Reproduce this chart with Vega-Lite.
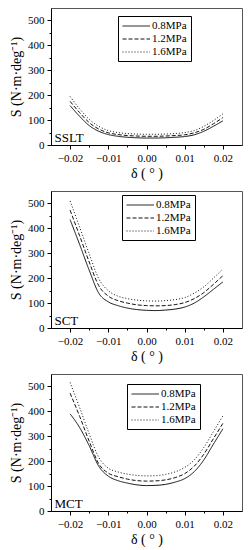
{
  "$schema": "https://vega.github.io/schema/vega-lite/v6.json",
  "padding": {"left": 9, "top": 7, "right": 9, "bottom": 2},
  "bounds": "flush",
  "spacing": 46,
  "background": "white",
  "config": {
    "view": {"stroke": "#555", "strokeWidth": 1},
    "font": "Liberation Serif",
    "axis": {
      "domainColor": "#000", "tickColor": "#000", "grid": false,
      "labelFont": "Liberation Serif", "labelFontSize": 11, "labelColor": "#000",
      "titleFont": "Liberation Serif", "titleFontSize": 14, "titleFontWeight": "normal", "titleColor": "#000",
      "labelOverlap": false, "labelFlush": false, "tickSize": 4, "labelPadding": 3
    },
    "legend": {
      "orient": "none", "title": null, "strokeColor": "#000", "fillColor": "white",
      "padding": 4, "rowPadding": 2, "labelFont": "Liberation Serif", "labelFontSize": 11, "labelColor": "#000",
      "symbolType": "M-1,0H4", "symbolSize": 121, "symbolStrokeWidth": 1, "symbolStrokeColor": "#111",
      "symbolFillColor": "transparent", "labelOffset": 18
    }
  },
  "datasets": {
    "curves": [
      {"panel":"SSLT","p":"0.8MPa","delta":-0.02,"S":158},{"panel":"SSLT","p":"0.8MPa","delta":-0.0175,"S":115},{"panel":"SSLT","p":"0.8MPa","delta":-0.015,"S":78},{"panel":"SSLT","p":"0.8MPa","delta":-0.0125,"S":55},{"panel":"SSLT","p":"0.8MPa","delta":-0.01,"S":42},{"panel":"SSLT","p":"0.8MPa","delta":-0.0075,"S":35},{"panel":"SSLT","p":"0.8MPa","delta":-0.005,"S":31},{"panel":"SSLT","p":"0.8MPa","delta":-0.0025,"S":29},{"panel":"SSLT","p":"0.8MPa","delta":0,"S":28},{"panel":"SSLT","p":"0.8MPa","delta":0.0025,"S":28},{"panel":"SSLT","p":"0.8MPa","delta":0.005,"S":29},{"panel":"SSLT","p":"0.8MPa","delta":0.0075,"S":31},{"panel":"SSLT","p":"0.8MPa","delta":0.01,"S":34},{"panel":"SSLT","p":"0.8MPa","delta":0.0125,"S":41},{"panel":"SSLT","p":"0.8MPa","delta":0.015,"S":55},{"panel":"SSLT","p":"0.8MPa","delta":0.0175,"S":75},{"panel":"SSLT","p":"0.8MPa","delta":0.02,"S":97},
      {"panel":"SSLT","p":"1.2MPa","delta":-0.02,"S":175},{"panel":"SSLT","p":"1.2MPa","delta":-0.0175,"S":130},{"panel":"SSLT","p":"1.2MPa","delta":-0.015,"S":90},{"panel":"SSLT","p":"1.2MPa","delta":-0.0125,"S":64},{"panel":"SSLT","p":"1.2MPa","delta":-0.01,"S":49},{"panel":"SSLT","p":"1.2MPa","delta":-0.0075,"S":42},{"panel":"SSLT","p":"1.2MPa","delta":-0.005,"S":38},{"panel":"SSLT","p":"1.2MPa","delta":-0.0025,"S":36},{"panel":"SSLT","p":"1.2MPa","delta":0,"S":35},{"panel":"SSLT","p":"1.2MPa","delta":0.0025,"S":35},{"panel":"SSLT","p":"1.2MPa","delta":0.005,"S":36},{"panel":"SSLT","p":"1.2MPa","delta":0.0075,"S":38},{"panel":"SSLT","p":"1.2MPa","delta":0.01,"S":41},{"panel":"SSLT","p":"1.2MPa","delta":0.0125,"S":49},{"panel":"SSLT","p":"1.2MPa","delta":0.015,"S":63},{"panel":"SSLT","p":"1.2MPa","delta":0.0175,"S":85},{"panel":"SSLT","p":"1.2MPa","delta":0.02,"S":110},
      {"panel":"SSLT","p":"1.6MPa","delta":-0.02,"S":195},{"panel":"SSLT","p":"1.6MPa","delta":-0.0175,"S":145},{"panel":"SSLT","p":"1.6MPa","delta":-0.015,"S":103},{"panel":"SSLT","p":"1.6MPa","delta":-0.0125,"S":75},{"panel":"SSLT","p":"1.6MPa","delta":-0.01,"S":58},{"panel":"SSLT","p":"1.6MPa","delta":-0.0075,"S":50},{"panel":"SSLT","p":"1.6MPa","delta":-0.005,"S":46},{"panel":"SSLT","p":"1.6MPa","delta":-0.0025,"S":44},{"panel":"SSLT","p":"1.6MPa","delta":0,"S":43},{"panel":"SSLT","p":"1.6MPa","delta":0.0025,"S":43},{"panel":"SSLT","p":"1.6MPa","delta":0.005,"S":44},{"panel":"SSLT","p":"1.6MPa","delta":0.0075,"S":46},{"panel":"SSLT","p":"1.6MPa","delta":0.01,"S":50},{"panel":"SSLT","p":"1.6MPa","delta":0.0125,"S":58},{"panel":"SSLT","p":"1.6MPa","delta":0.015,"S":75},{"panel":"SSLT","p":"1.6MPa","delta":0.0175,"S":98},{"panel":"SSLT","p":"1.6MPa","delta":0.02,"S":125},
      {"panel":"SCT","p":"0.8MPa","delta":-0.02,"S":435},{"panel":"SCT","p":"0.8MPa","delta":-0.0175,"S":335},{"panel":"SCT","p":"0.8MPa","delta":-0.015,"S":232},{"panel":"SCT","p":"0.8MPa","delta":-0.0125,"S":140},{"panel":"SCT","p":"0.8MPa","delta":-0.01,"S":105},{"panel":"SCT","p":"0.8MPa","delta":-0.0075,"S":90},{"panel":"SCT","p":"0.8MPa","delta":-0.005,"S":80},{"panel":"SCT","p":"0.8MPa","delta":-0.0025,"S":74},{"panel":"SCT","p":"0.8MPa","delta":0,"S":71},{"panel":"SCT","p":"0.8MPa","delta":0.0025,"S":70},{"panel":"SCT","p":"0.8MPa","delta":0.005,"S":72},{"panel":"SCT","p":"0.8MPa","delta":0.0075,"S":76},{"panel":"SCT","p":"0.8MPa","delta":0.01,"S":84},{"panel":"SCT","p":"0.8MPa","delta":0.0125,"S":100},{"panel":"SCT","p":"0.8MPa","delta":0.015,"S":125},{"panel":"SCT","p":"0.8MPa","delta":0.0175,"S":155},{"panel":"SCT","p":"0.8MPa","delta":0.02,"S":185},
      {"panel":"SCT","p":"1.2MPa","delta":-0.02,"S":473},{"panel":"SCT","p":"1.2MPa","delta":-0.0175,"S":370},{"panel":"SCT","p":"1.2MPa","delta":-0.015,"S":265},{"panel":"SCT","p":"1.2MPa","delta":-0.0125,"S":170},{"panel":"SCT","p":"1.2MPa","delta":-0.01,"S":128},{"panel":"SCT","p":"1.2MPa","delta":-0.0075,"S":110},{"panel":"SCT","p":"1.2MPa","delta":-0.005,"S":100},{"panel":"SCT","p":"1.2MPa","delta":-0.0025,"S":93},{"panel":"SCT","p":"1.2MPa","delta":0,"S":90},{"panel":"SCT","p":"1.2MPa","delta":0.0025,"S":89},{"panel":"SCT","p":"1.2MPa","delta":0.005,"S":90},{"panel":"SCT","p":"1.2MPa","delta":0.0075,"S":94},{"panel":"SCT","p":"1.2MPa","delta":0.01,"S":102},{"panel":"SCT","p":"1.2MPa","delta":0.0125,"S":118},{"panel":"SCT","p":"1.2MPa","delta":0.015,"S":142},{"panel":"SCT","p":"1.2MPa","delta":0.0175,"S":175},{"panel":"SCT","p":"1.2MPa","delta":0.02,"S":210},
      {"panel":"SCT","p":"1.6MPa","delta":-0.02,"S":510},{"panel":"SCT","p":"1.6MPa","delta":-0.0175,"S":405},{"panel":"SCT","p":"1.6MPa","delta":-0.015,"S":298},{"panel":"SCT","p":"1.6MPa","delta":-0.0125,"S":198},{"panel":"SCT","p":"1.6MPa","delta":-0.01,"S":150},{"panel":"SCT","p":"1.6MPa","delta":-0.0075,"S":128},{"panel":"SCT","p":"1.6MPa","delta":-0.005,"S":118},{"panel":"SCT","p":"1.6MPa","delta":-0.0025,"S":112},{"panel":"SCT","p":"1.6MPa","delta":0,"S":109},{"panel":"SCT","p":"1.6MPa","delta":0.0025,"S":108},{"panel":"SCT","p":"1.6MPa","delta":0.005,"S":110},{"panel":"SCT","p":"1.6MPa","delta":0.0075,"S":114},{"panel":"SCT","p":"1.6MPa","delta":0.01,"S":122},{"panel":"SCT","p":"1.6MPa","delta":0.0125,"S":140},{"panel":"SCT","p":"1.6MPa","delta":0.015,"S":165},{"panel":"SCT","p":"1.6MPa","delta":0.0175,"S":200},{"panel":"SCT","p":"1.6MPa","delta":0.02,"S":237},
      {"panel":"MCT","p":"0.8MPa","delta":-0.02,"S":390},{"panel":"MCT","p":"0.8MPa","delta":-0.0175,"S":335},{"panel":"MCT","p":"0.8MPa","delta":-0.015,"S":262},{"panel":"MCT","p":"0.8MPa","delta":-0.0125,"S":180},{"panel":"MCT","p":"0.8MPa","delta":-0.01,"S":140},{"panel":"MCT","p":"0.8MPa","delta":-0.0075,"S":122},{"panel":"MCT","p":"0.8MPa","delta":-0.005,"S":112},{"panel":"MCT","p":"0.8MPa","delta":-0.0025,"S":105},{"panel":"MCT","p":"0.8MPa","delta":0,"S":102},{"panel":"MCT","p":"0.8MPa","delta":0.0025,"S":103},{"panel":"MCT","p":"0.8MPa","delta":0.005,"S":107},{"panel":"MCT","p":"0.8MPa","delta":0.0075,"S":116},{"panel":"MCT","p":"0.8MPa","delta":0.01,"S":130},{"panel":"MCT","p":"0.8MPa","delta":0.0125,"S":158},{"panel":"MCT","p":"0.8MPa","delta":0.015,"S":205},{"panel":"MCT","p":"0.8MPa","delta":0.0175,"S":268},{"panel":"MCT","p":"0.8MPa","delta":0.02,"S":330},
      {"panel":"MCT","p":"1.2MPa","delta":-0.02,"S":473},{"panel":"MCT","p":"1.2MPa","delta":-0.0175,"S":380},{"panel":"MCT","p":"1.2MPa","delta":-0.015,"S":280},{"panel":"MCT","p":"1.2MPa","delta":-0.0125,"S":190},{"panel":"MCT","p":"1.2MPa","delta":-0.01,"S":152},{"panel":"MCT","p":"1.2MPa","delta":-0.0075,"S":138},{"panel":"MCT","p":"1.2MPa","delta":-0.005,"S":128},{"panel":"MCT","p":"1.2MPa","delta":-0.0025,"S":122},{"panel":"MCT","p":"1.2MPa","delta":0,"S":120},{"panel":"MCT","p":"1.2MPa","delta":0.0025,"S":121},{"panel":"MCT","p":"1.2MPa","delta":0.005,"S":125},{"panel":"MCT","p":"1.2MPa","delta":0.0075,"S":134},{"panel":"MCT","p":"1.2MPa","delta":0.01,"S":150},{"panel":"MCT","p":"1.2MPa","delta":0.0125,"S":180},{"panel":"MCT","p":"1.2MPa","delta":0.015,"S":228},{"panel":"MCT","p":"1.2MPa","delta":0.0175,"S":290},{"panel":"MCT","p":"1.2MPa","delta":0.02,"S":352},
      {"panel":"MCT","p":"1.6MPa","delta":-0.02,"S":516},{"panel":"MCT","p":"1.6MPa","delta":-0.0175,"S":415},{"panel":"MCT","p":"1.6MPa","delta":-0.015,"S":310},{"panel":"MCT","p":"1.6MPa","delta":-0.0125,"S":215},{"panel":"MCT","p":"1.6MPa","delta":-0.01,"S":172},{"panel":"MCT","p":"1.6MPa","delta":-0.0075,"S":157},{"panel":"MCT","p":"1.6MPa","delta":-0.005,"S":148},{"panel":"MCT","p":"1.6MPa","delta":-0.0025,"S":143},{"panel":"MCT","p":"1.6MPa","delta":0,"S":141},{"panel":"MCT","p":"1.6MPa","delta":0.0025,"S":142},{"panel":"MCT","p":"1.6MPa","delta":0.005,"S":147},{"panel":"MCT","p":"1.6MPa","delta":0.0075,"S":157},{"panel":"MCT","p":"1.6MPa","delta":0.01,"S":175},{"panel":"MCT","p":"1.6MPa","delta":0.0125,"S":205},{"panel":"MCT","p":"1.6MPa","delta":0.015,"S":255},{"panel":"MCT","p":"1.6MPa","delta":0.0175,"S":318},{"panel":"MCT","p":"1.6MPa","delta":0.02,"S":382}
    ]
  },
  "resolve": {"scale": {"strokeDash": "independent", "x": "independent", "y": "independent"}, "legend": {"strokeDash": "independent"}},
  "vconcat": [
    {
      "width": 191, "height": 137,
      "encoding": {
        "x": {"type": "quantitative", "scale": {"domain": [-0.025, 0.025], "nice": false},
          "axis": {"title": "δ ( ° )", "values": [-0.02,-0.015,-0.01,-0.005,0,0.005,0.01,0.015,0.02], "labelOverlap": false,
            "labelExpr": "abs(round(datum.value*200)) % 2 == 1 ? '' : format(datum.value, '.2f')",
            "tickSize": {"condition": {"test": "abs(round(datum.value*200)) % 2 == 1", "value": 2}, "value": 4}, "titlePadding": 3}},
        "y": {"type": "quantitative", "scale": {"domain": [0, 550], "nice": false},
          "axis": {"title": "S (N·m·deg⁻¹)", "values": [0,50,100,150,200,250,300,350,400,450,500], "labelOverlap": false,
            "labelExpr": "datum.value % 100 == 0 ? datum.label : ''",
            "tickSize": {"condition": {"test": "datum.value % 100 != 0", "value": 2}, "value": 4}, "titlePadding": 4}}
      },
      "layer": [
        {
          "data": {"name": "curves"},
          "transform": [{"filter": "datum.panel === 'SSLT'"}],
          "mark": {"type": "line", "interpolate": "monotone", "strokeWidth": 1, "color": "#111"},
          "encoding": {
            "x": {"field": "delta", "type": "quantitative"},
            "y": {"field": "S", "type": "quantitative"},
            "strokeDash": {"field": "p", "type": "nominal", "scale": {"domain": ["0.8MPa","1.2MPa","1.6MPa"], "range": [[1,0],[4,2],[1,2]]},
              "legend": {"legendX": 67, "legendY": 8}}
          }
        },
        {
          "data": {"values": [{}]},
          "mark": {"type": "text", "align": "left", "baseline": "alphabetic", "dy": -3, "fontSize": 13, "font": "Liberation Serif", "color": "#000"},
          "encoding": {"x": {"datum": -0.0241, "type": "quantitative"}, "y": {"datum": 0, "type": "quantitative"}, "text": {"value": "SSLT"}}
        }
      ]
    },
    {
      "width": 191, "height": 137,
      "encoding": {
        "x": {"type": "quantitative", "scale": {"domain": [-0.025, 0.025], "nice": false},
          "axis": {"title": "δ ( ° )", "values": [-0.02,-0.015,-0.01,-0.005,0,0.005,0.01,0.015,0.02], "labelOverlap": false,
            "labelExpr": "abs(round(datum.value*200)) % 2 == 1 ? '' : format(datum.value, '.2f')",
            "tickSize": {"condition": {"test": "abs(round(datum.value*200)) % 2 == 1", "value": 2}, "value": 4}, "titlePadding": 3}},
        "y": {"type": "quantitative", "scale": {"domain": [0, 550], "nice": false},
          "axis": {"title": "S (N·m·deg⁻¹)", "values": [0,50,100,150,200,250,300,350,400,450,500], "labelOverlap": false,
            "labelExpr": "datum.value % 100 == 0 ? datum.label : ''",
            "tickSize": {"condition": {"test": "datum.value % 100 != 0", "value": 2}, "value": 4}, "titlePadding": 4}}
      },
      "layer": [
        {
          "data": {"name": "curves"},
          "transform": [{"filter": "datum.panel === 'SCT'"}],
          "mark": {"type": "line", "interpolate": "monotone", "strokeWidth": 1, "color": "#111"},
          "encoding": {
            "x": {"field": "delta", "type": "quantitative"},
            "y": {"field": "S", "type": "quantitative"},
            "strokeDash": {"field": "p", "type": "nominal", "scale": {"domain": ["0.8MPa","1.2MPa","1.6MPa"], "range": [[1,0],[4,2],[1,2]]},
              "legend": {"legendX": 71, "legendY": 4}}
          }
        },
        {
          "data": {"values": [{}]},
          "mark": {"type": "text", "align": "left", "baseline": "alphabetic", "dy": -3, "fontSize": 13, "font": "Liberation Serif", "color": "#000"},
          "encoding": {"x": {"datum": -0.0241, "type": "quantitative"}, "y": {"datum": 0, "type": "quantitative"}, "text": {"value": "SCT"}}
        }
      ]
    },
    {
      "width": 191, "height": 137,
      "encoding": {
        "x": {"type": "quantitative", "scale": {"domain": [-0.025, 0.025], "nice": false},
          "axis": {"title": "δ ( ° )", "values": [-0.02,-0.015,-0.01,-0.005,0,0.005,0.01,0.015,0.02], "labelOverlap": false,
            "labelExpr": "abs(round(datum.value*200)) % 2 == 1 ? '' : format(datum.value, '.2f')",
            "tickSize": {"condition": {"test": "abs(round(datum.value*200)) % 2 == 1", "value": 2}, "value": 4}, "titlePadding": 3}},
        "y": {"type": "quantitative", "scale": {"domain": [0, 550], "nice": false},
          "axis": {"title": "S (N·m·deg⁻¹)", "values": [0,50,100,150,200,250,300,350,400,450,500], "labelOverlap": false,
            "labelExpr": "datum.value % 100 == 0 ? datum.label : ''",
            "tickSize": {"condition": {"test": "datum.value % 100 != 0", "value": 2}, "value": 4}, "titlePadding": 4}}
      },
      "layer": [
        {
          "data": {"name": "curves"},
          "transform": [{"filter": "datum.panel === 'MCT'"}],
          "mark": {"type": "line", "interpolate": "monotone", "strokeWidth": 1, "color": "#111"},
          "encoding": {
            "x": {"field": "delta", "type": "quantitative"},
            "y": {"field": "S", "type": "quantitative"},
            "strokeDash": {"field": "p", "type": "nominal", "scale": {"domain": ["0.8MPa","1.2MPa","1.6MPa"], "range": [[1,0],[4,2],[1,2]]},
              "legend": {"legendX": 76, "legendY": 10}}
          }
        },
        {
          "data": {"values": [{}]},
          "mark": {"type": "text", "align": "left", "baseline": "alphabetic", "dy": -3, "fontSize": 13, "font": "Liberation Serif", "color": "#000"},
          "encoding": {"x": {"datum": -0.0241, "type": "quantitative"}, "y": {"datum": 0, "type": "quantitative"}, "text": {"value": "MCT"}}
        }
      ]
    }
  ]
}
